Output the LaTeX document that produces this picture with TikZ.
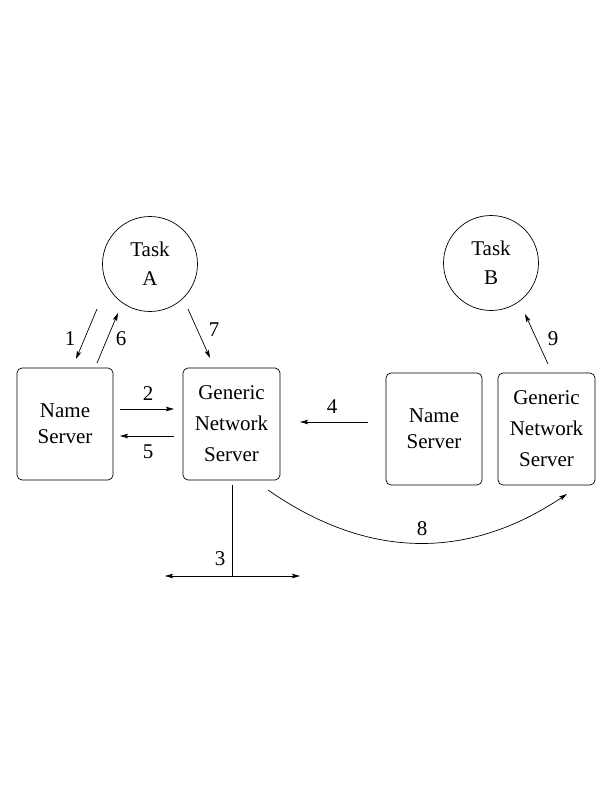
\documentclass[tikz,border=0pt]{standalone}
\usepackage{fontspec}
\setmainfont{Liberation Serif}
\usetikzlibrary{arrows.meta,calc}
\begin{document}
\begin{tikzpicture}[x=1pt,y=-1pt,
  lw/.style={line width=0.7pt},
  arr/.style={lw,-{Stealth[length=8pt,width=4.5pt,inset=1.5pt]}},
  task/.style={draw,lw,circle,minimum size=95pt,inner sep=0pt,align=center,font=\fontsize{21}{29}\selectfont},
  nbox/.style={draw,lw,rounded corners=5pt,minimum width=96pt,minimum height=112pt,inner sep=0pt,align=center,font=\fontsize{21}{26}\selectfont},
  gbox/.style={nbox,minimum width=97pt,font=\fontsize{21}{31}\selectfont},
  lab/.style={inner sep=0pt,font=\fontsize{21}{24}\selectfont}]
\useasboundingbox (0,0) rectangle (612,792);
\node[task] (TA) at (150,264) {Task\\A};
\node[task] (TB) at (491,263) {Task\\B};
\node[nbox] (NS1) at (65,424) {Name\\Server};
\node[gbox] (G1) at (231.5,424) {Generic\\Network\\Server};
\node[nbox] (NS2) at (434,429) {Name\\Server};
\node[gbox] (G2) at (546.5,429) {Generic\\Network\\Server};
% arrows
\draw[arr] ($(TA)+(-53,45)$) -- ($(NS1)+(11,-65)$);
\draw[arr] ($(NS1)+(32,-61)$) -- ($(TA)+(-32,49)$);
\draw[arr] ($(TA)+(38,45)$) -- ($(G1)+(-21.5,-66)$);
\draw[arr] ($(NS1)+(55,-15)$) -- ($(G1)+(-57.5,-15)$);
\draw[arr] ($(G1)+(-57.5,12)$) -- ($(NS1)+(55,12)$);
\draw[arr] ($(NS2)+(-66,-7)$) -- ($(G1)+(68.5,-2)$);
\draw[arr] ($(G2)+(1.5,-65)$) -- ($(TB)+(34,51)$);
\coordinate (J3) at (232,576);
\coordinate (L3) at (165,576);
\coordinate (R3) at (300,576);
\draw[lw] ($(G1)+(0.5,61)$) -- (J3);
\draw[arr] (J3) -- (L3);
\draw[arr] (J3) -- (R3);
\draw[arr] ($(G1)+(36.5,66)$) .. controls (367,559) and (467,561) .. ($(G2)+(20.5,65)$);
% labels
\node[lab] (l1) at (70,339) {1};
\node[lab] (l6) at (121,339) {6};
\node[lab] (l7) at (214,330) {7};
\node[lab] (l2) at (148,394) {2};
\node[lab] (l5) at (148,452) {5};
\node[lab] (l4) at (332,407) {4};
\node[lab] (l9) at (553,339) {9};
\node[lab] (l3) at (220,559) {3};
\node[lab] (l8) at (422,529) {8};
\end{tikzpicture}
\end{document}
